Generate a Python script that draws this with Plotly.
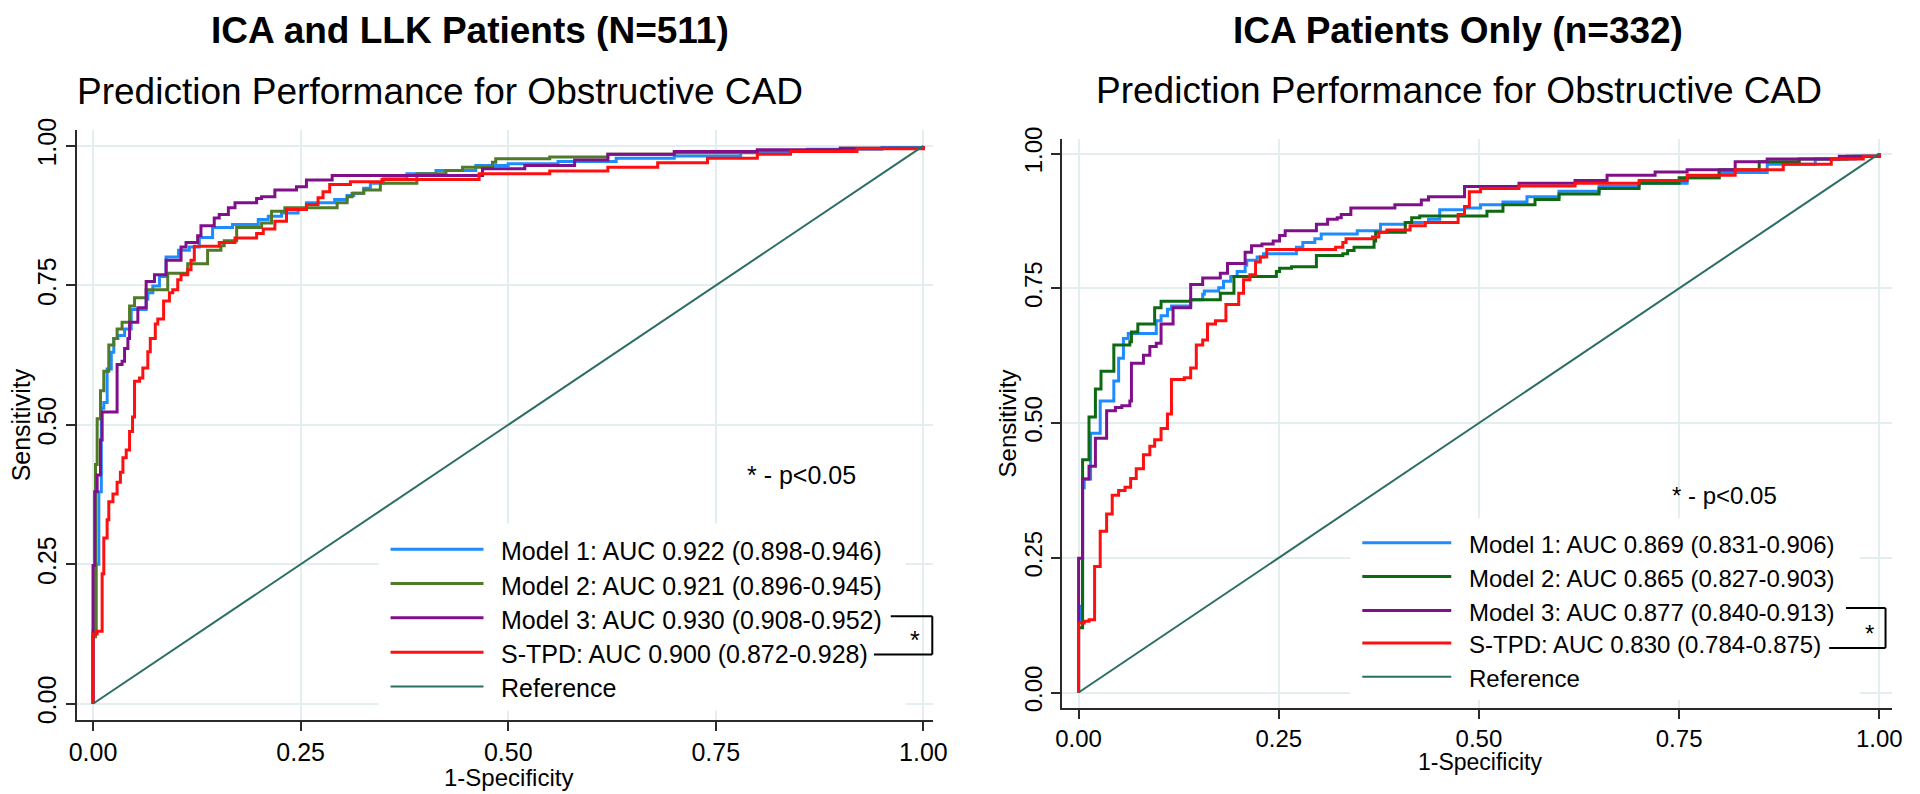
import plotly.graph_objects as go

# ---------------- data ----------------
tick_vals = [0, 0.25, 0.5, 0.75, 1.0]
tick_labels = ["0.00", "0.25", "0.50", "0.75", "1.00"]
reference_fpr = [0, 1]
reference_tpr = [0, 1]

# Left panel: ICA and LLK patients (N=511)
left_m1_fpr = [0, 0, 0.004, 0.007, 0.010, 0.013, 0.017, 0.022, 0.025, 0.030, 0.038, 0.046, 0.064, 0.066, 0.072,
               0.080, 0.088, 0.103, 0.116, 0.128, 0.144, 0.168, 0.199, 0.211, 0.227, 0.247, 0.257, 0.291, 0.306,
               0.314, 0.326, 0.334, 0.350, 0.378, 0.413, 0.461, 0.50, 0.56, 0.63, 0.70, 0.78, 0.86, 0.95, 1.0]
left_m1_tpr = [0, 0.13, 0.25, 0.38, 0.53, 0.54, 0.60, 0.63, 0.655, 0.66, 0.672, 0.707, 0.725, 0.737, 0.749,
               0.766, 0.801, 0.813, 0.819, 0.836, 0.854, 0.859, 0.868, 0.874, 0.880, 0.886, 0.898, 0.904, 0.911,
               0.915, 0.924, 0.933, 0.941, 0.950, 0.956, 0.965, 0.968, 0.972, 0.978, 0.982, 0.99, 0.994, 0.997, 1.0]

left_m2_fpr = [0, 0, 0.003, 0.003, 0.005, 0.009, 0.013, 0.019, 0.025, 0.029, 0.035, 0.044, 0.050, 0.064, 0.090,
               0.114, 0.138, 0.154, 0.158, 0.173, 0.203, 0.215, 0.231, 0.294, 0.306, 0.312, 0.326, 0.346, 0.390,
               0.425, 0.445, 0.481, 0.485, 0.55, 0.62, 0.70, 0.80, 0.90, 1.0]
left_m2_tpr = [0, 0.12, 0.25, 0.429, 0.511, 0.561, 0.596, 0.643, 0.655, 0.672, 0.684, 0.713, 0.728, 0.742, 0.772,
               0.789, 0.813, 0.821, 0.830, 0.854, 0.862, 0.883, 0.889, 0.898, 0.909, 0.915, 0.921, 0.933, 0.950,
               0.956, 0.962, 0.971, 0.977, 0.98, 0.985, 0.988, 0.992, 0.996, 1.0]

left_m3_fpr = [0, 0, 0, 0.002, 0.005, 0.009, 0.011, 0.029, 0.029, 0.035, 0.038, 0.042, 0.044, 0.054, 0.064,
               0.074, 0.088, 0.106, 0.112, 0.126, 0.130, 0.146, 0.152, 0.163, 0.171, 0.197, 0.203, 0.219, 0.245,
               0.257, 0.288, 0.469, 0.52, 0.58, 0.62, 0.70, 0.80, 0.90, 1.0]
left_m3_tpr = [0, 0.125, 0.248, 0.38, 0.41, 0.473, 0.523, 0.537, 0.608, 0.614, 0.637, 0.655, 0.684, 0.710, 0.757,
               0.769, 0.795, 0.819, 0.827, 0.839, 0.857, 0.871, 0.877, 0.889, 0.898, 0.906, 0.909, 0.921, 0.927,
               0.939, 0.947, 0.959, 0.965, 0.975, 0.985, 0.99, 0.993, 0.996, 1.0]

left_stpd_fpr = [0, 0, 0.005, 0.011, 0.011, 0.013, 0.017, 0.019, 0.024, 0.029, 0.033, 0.036, 0.040, 0.044, 0.0476,
                 0.050, 0.056, 0.060, 0.066, 0.069, 0.075, 0.078, 0.085, 0.092, 0.096, 0.102, 0.106, 0.114, 0.118,
                 0.122, 0.152, 0.171, 0.197, 0.205, 0.219, 0.233, 0.257, 0.271, 0.277, 0.285, 0.310, 0.348, 0.465,
                 0.55, 0.62, 0.68, 0.74, 0.80, 0.84, 0.92, 1.0]
left_stpd_tpr = [0, 0.125, 0.13, 0.135, 0.233, 0.297, 0.33, 0.362, 0.376, 0.397, 0.415, 0.441, 0.455, 0.488, 0.514,
                 0.578, 0.584, 0.602, 0.631, 0.655, 0.681, 0.690, 0.722, 0.737, 0.742, 0.760, 0.769, 0.778, 0.795,
                 0.820, 0.827, 0.835, 0.843, 0.851, 0.865, 0.886, 0.895, 0.907, 0.918, 0.931, 0.936, 0.940, 0.950,
                 0.955, 0.962, 0.970, 0.978, 0.985, 0.99, 0.995, 1.0]

# Right panel: ICA patients only (n=332)
right_m1_fpr = [0, 0, 0.002, 0.005, 0.007, 0.015, 0.027, 0.044, 0.050, 0.056, 0.062, 0.097, 0.103, 0.111, 0.116,
                0.140, 0.155, 0.157, 0.175, 0.181, 0.190, 0.198, 0.208, 0.210, 0.223, 0.231, 0.272, 0.280, 0.295,
                0.303, 0.348, 0.377, 0.408, 0.437, 0.451, 0.482, 0.502, 0.53, 0.56, 0.60, 0.65, 0.70, 0.76, 0.80,
                0.86, 0.92, 0.97, 1.0]
right_m1_tpr = [0, 0.13, 0.16, 0.38, 0.396, 0.481, 0.541, 0.578, 0.620, 0.657, 0.666, 0.690, 0.699, 0.711, 0.717,
                0.729, 0.739, 0.745, 0.751, 0.763, 0.772, 0.781, 0.793, 0.802, 0.808, 0.814, 0.826, 0.835, 0.842,
                0.851, 0.857, 0.869, 0.872, 0.878, 0.896, 0.899, 0.905, 0.91, 0.92, 0.93, 0.94, 0.945, 0.955, 0.965,
                0.98, 0.99, 0.995, 1.0]

right_m2_fpr = [0, 0, 0.005, 0.005, 0.013, 0.021, 0.028, 0.044, 0.064, 0.066, 0.074, 0.095, 0.103, 0.140, 0.177,
                0.194, 0.247, 0.251, 0.266, 0.297, 0.330, 0.336, 0.344, 0.369, 0.371, 0.408, 0.416, 0.426, 0.510,
                0.53, 0.57, 0.60, 0.65, 0.70, 0.75, 0.80, 0.85, 0.90, 0.96, 1.0]
right_m2_tpr = [0, 0.12, 0.25, 0.432, 0.511, 0.563, 0.596, 0.645, 0.651, 0.669, 0.684, 0.714, 0.726, 0.729, 0.741,
                0.772, 0.781, 0.787, 0.790, 0.811, 0.814, 0.820, 0.826, 0.838, 0.854, 0.872, 0.881, 0.884, 0.893,
                0.905, 0.915, 0.925, 0.935, 0.945, 0.955, 0.97, 0.985, 0.99, 0.995, 1.0]

right_m3_fpr = [0, 0, 0, 0.005, 0.013, 0.021, 0.035, 0.046, 0.054, 0.064, 0.066, 0.081, 0.089, 0.097, 0.103,
                0.118, 0.118, 0.140, 0.155, 0.177, 0.186, 0.208, 0.216, 0.229, 0.243, 0.251, 0.258, 0.297, 0.311,
                0.323, 0.328, 0.340, 0.395, 0.428, 0.437, 0.482, 0.55, 0.62, 0.66, 0.72, 0.76, 0.82, 0.86, 0.95, 1.0]
right_m3_tpr = [0, 0.129, 0.249, 0.396, 0.420, 0.472, 0.523, 0.529, 0.532, 0.541, 0.611, 0.626, 0.642, 0.648, 0.684,
                0.699, 0.714, 0.757, 0.769, 0.778, 0.796, 0.817, 0.829, 0.832, 0.838, 0.848, 0.857, 0.869, 0.878,
                0.881, 0.887, 0.899, 0.905, 0.914, 0.920, 0.939, 0.945, 0.95, 0.96, 0.966, 0.97, 0.985, 0.99, 0.995, 1.0]

right_stpd_fpr = [0, 0, 0.007, 0.013, 0.020, 0.027, 0.035, 0.042, 0.050, 0.058, 0.065, 0.072, 0.081, 0.089, 0.095,
                  0.103, 0.111, 0.116, 0.132, 0.140, 0.147, 0.155, 0.161, 0.171, 0.184, 0.200, 0.206, 0.214, 0.221,
                  0.227, 0.235, 0.321, 0.330, 0.334, 0.367, 0.375, 0.385, 0.414, 0.433, 0.474, 0.482, 0.488, 0.502,
                  0.55, 0.62, 0.70, 0.76, 0.82, 0.88, 0.94, 0.98, 1.0]
right_stpd_tpr = [0, 0.129, 0.132, 0.135, 0.234, 0.299, 0.331, 0.366, 0.375, 0.381, 0.397, 0.415, 0.441, 0.457, 0.469,
                  0.490, 0.517, 0.581, 0.584, 0.602, 0.645, 0.654, 0.684, 0.690, 0.720, 0.741, 0.766, 0.775, 0.799,
                  0.808, 0.822, 0.826, 0.835, 0.842, 0.845, 0.854, 0.858, 0.866, 0.872, 0.887, 0.902, 0.929, 0.935,
                  0.94, 0.945, 0.95, 0.96, 0.97, 0.98, 0.99, 0.995, 1.0]

left_labels = ["Model 1: AUC 0.922 (0.898-0.946)", "Model 2: AUC 0.921 (0.896-0.945)",
               "Model 3: AUC 0.930 (0.908-0.952)", "S-TPD: AUC 0.900 (0.872-0.928)", "Reference"]
right_labels = ["Model 1: AUC 0.869 (0.831-0.906)", "Model 2: AUC 0.865 (0.827-0.903)",
                "Model 3: AUC 0.877 (0.840-0.913)", "S-TPD: AUC 0.830 (0.784-0.875)", "Reference"]
left_title = "ICA and LLK Patients (N=511)"
right_title = "ICA Patients Only (n=332)"
subtitle = "Prediction Performance for Obstructive CAD"

# ---------------- styling ----------------
W, H = 1920, 794
FONT = "Arial, Liberation Sans, sans-serif"
BLUE = "#1E8CFF"
GREEN_L = "#4F7A28"
GREEN_R = "#0E6A12"
PURPLE = "#80108A"
RED = "#FF1010"
TEAL = "#2C6E64"
AXIS = "#2a2a2a"
GRID = "#e4eeef"


def PX(X):
    return X / W


def PY(Y):
    return 1 - Y / H


fig = go.Figure()

left_series = [(left_m1_fpr, left_m1_tpr, BLUE, 3), (left_m2_fpr, left_m2_tpr, GREEN_L, 3),
               (left_m3_fpr, left_m3_tpr, PURPLE, 3), (left_stpd_fpr, left_stpd_tpr, RED, 3)]
right_series = [(right_m1_fpr, right_m1_tpr, BLUE, 3), (right_m2_fpr, right_m2_tpr, GREEN_R, 3),
                (right_m3_fpr, right_m3_tpr, PURPLE, 3), (right_stpd_fpr, right_stpd_tpr, RED, 3)]

for (fx, ty, col, w), name in zip(left_series, left_labels):
    fig.add_trace(go.Scatter(x=fx, y=ty, mode="lines", line=dict(color=col, width=w, shape="hv"),
                             name=name, showlegend=False, xaxis="x", yaxis="y"))
fig.add_trace(go.Scatter(x=reference_fpr, y=reference_tpr, mode="lines", line=dict(color=TEAL, width=2),
                         name="Reference", showlegend=False, xaxis="x", yaxis="y"))
for (fx, ty, col, w), name in zip(right_series, right_labels):
    fig.add_trace(go.Scatter(x=fx, y=ty, mode="lines", line=dict(color=col, width=w, shape="hv"),
                             name=name, showlegend=False, xaxis="x2", yaxis="y2"))
fig.add_trace(go.Scatter(x=reference_fpr, y=reference_tpr, mode="lines", line=dict(color=TEAL, width=2),
                         name="Reference", showlegend=False, xaxis="x2", yaxis="y2"))


def axis(domain, rng, anchor, size, angle=0):
    return dict(domain=domain, range=rng, anchor=anchor, tickvals=tick_vals, ticktext=tick_labels,
                showline=True, linecolor=AXIS, linewidth=2, ticks="outside", ticklen=9, tickwidth=2,
                tickcolor=AXIS, showgrid=True, gridcolor=GRID, gridwidth=2, zeroline=False,
                tickangle=angle, tickfont=dict(family=FONT, size=size, color="black"), fixedrange=True)


layout = dict(
    width=W, height=H, margin=dict(l=0, r=0, t=0, b=0), paper_bgcolor="white", plot_bgcolor="white",
    xaxis=axis([PX(70), PX(936)], [-0.01905, 1.0119], "y", 25),
    yaxis=axis([PY(723), PY(120.7)], [-0.02986, 1.02811], "x", 25, -90),
    xaxis2=axis([PX(1066.7), PX(1906)], [-0.02012, 1.01605], "y2", 24),
    yaxis2=axis([PY(710), PY(129.3)], [-0.02818, 1.02764], "x2", 24, -90),
    showlegend=False,
)
fig.update_layout(**layout)

annotations = []
shapes = []


def text(X, Y, s, size, bold=False, anchor="center", angle=0):
    annotations.append(dict(x=PX(X), y=PY(Y), xref="paper", yref="paper", text=("<b>%s</b>" % s) if bold else s,
                            showarrow=False, xanchor=anchor, yanchor="middle", textangle=angle,
                            font=dict(family=FONT, size=size, color="black")))


def seg(X0, Y0, X1, Y1, color, width):
    shapes.append(dict(type="line", xref="paper", yref="paper", x0=PX(X0), y0=PY(Y0), x1=PX(X1), y1=PY(Y1),
                       line=dict(color=color, width=width), layer="above"))


# titles
text(467, 19, left_title, 37, bold=True)
text(437.5, 81, subtitle, 37)
text(1466.7, 19, right_title, 37, bold=True)
text(1467.7, 80.5, subtitle, 37)

# axis titles
text(506.7, 781, "1-Specificity", 24)
text(1488.7, 765, "1-Specificity", 23)
text(13, 421, "Sensitivity", 25, angle=-90)
text(1011, 419.5, "Sensitivity", 24, angle=-90)

# p-value notes
text(803, 473, "* - p&lt;0.05", 25)
text(1736.7, 493.3, "* - p&lt;0.05", 24)


def legend(box, rows, x0, x1, tx, labels, colors, widths, size):
    bx0, by0, bx1, by1 = box
    shapes.append(dict(type="rect", xref="paper", yref="paper", x0=PX(bx0), y0=PY(by1), x1=PX(bx1), y1=PY(by0),
                       fillcolor="white", line=dict(width=0), layer="above"))
    for Y, lab, col, w in zip(rows, labels, colors, widths):
        seg(x0, Y, x1, Y, col, w)
        text(tx, Y + 2, lab, size, anchor="left")


legend((375, 522, 908, 713), [548.3, 583.3, 618.3, 653.3, 688.3], 387, 481, 496.7, left_labels,
       [BLUE, GREEN_L, PURPLE, RED, TEAL], [3, 3, 3, 3, 2], 25)
legend((1358, 517, 1873, 702), [541.7, 576, 610.7, 644, 678.3], 1370, 1460, 1476, right_labels,
       [BLUE, GREEN_R, PURPLE, RED, TEAL], [3, 3, 3, 3, 2], 24)

# significance brackets
seg(893, 616.7, 935, 616.7, "black", 2)
seg(935, 616.7, 935, 655.7, "black", 2)
seg(876, 655.7, 935, 655.7, "black", 2)
text(918, 641, "*", 25)
seg(1859.3, 608.3, 1899.3, 608.3, "black", 2)
seg(1899.3, 608.3, 1899.3, 649, "black", 2)
seg(1842.3, 649, 1899.3, 649, "black", 2)
text(1882.7, 634, "*", 24)

fig.update_layout(annotations=annotations, shapes=shapes)
fig.write_html("out.html",
               config={"displayModeBar": False, "staticPlot": False},
               post_script="document.body.style.margin='0';document.body.style.padding='0';"
                           "document.body.style.overflow='hidden';")
